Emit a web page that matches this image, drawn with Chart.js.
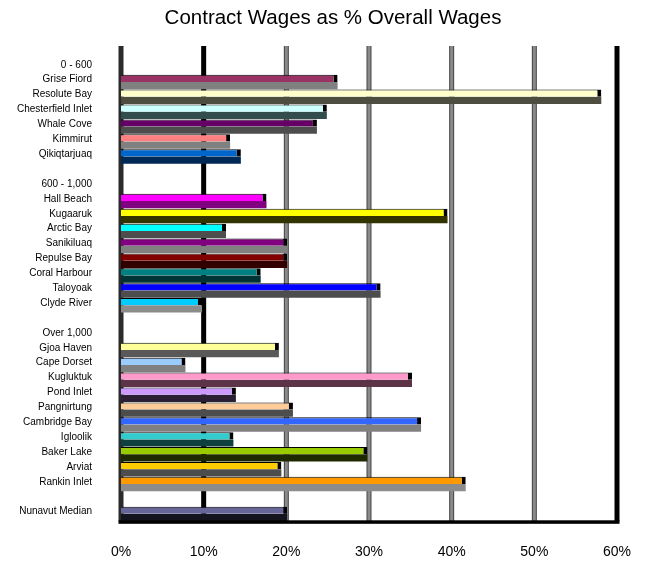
<!DOCTYPE html>
<html><head><meta charset="utf-8">
<script src="https://cdn.jsdelivr.net/npm/chart.js@4/dist/chart.umd.min.js"></script>
<style>html,body{margin:0;padding:0;background:#fff;} #wrap{width:647px;height:562px;}</style>
</head><body><div id="wrap"><canvas id="c" width="647" height="562"></canvas></div>
<script>
const categories = ["0 - 600","Grise Fiord","Resolute Bay","Chesterfield Inlet","Whale Cove","Kimmirut","Qikiqtarjuaq","",
  "600 - 1,000","Hall Beach","Kugaaruk","Arctic Bay","Sanikiluaq","Repulse Bay","Coral Harbour","Taloyoak","Clyde River","",
  "Over 1,000","Gjoa Haven","Cape Dorset","Kugluktuk","Pond Inlet","Pangnirtung","Cambridge Bay","Igloolik","Baker Lake","Arviat","Rankin Inlet","",
  "Nunavut Median"];
const values = [null,26.2,58.1,24.9,23.7,13.2,14.5,null,
  null,17.6,39.5,12.7,20.1,20.1,16.9,31.4,9.8,null,
  null,19.1,7.8,35.2,13.9,20.8,36.3,13.6,29.8,19.4,41.7,null,
  20.1];
const faceColors = ["#fff","#993366","#ffffcc","#ccffff","#660066","#ff8080","#0066cc","#fff",
  "#fff","#ff00ff","#ffff00","#00ffff","#800080","#800000","#008080","#0000ff","#00ccff","#fff",
  "#fff","#ffff99","#99ccff","#ff99cc","#cc99ff","#ffcc99","#3366ff","#33cccc","#99cc00","#ffcc00","#ff9900","#fff",
  "#666699"];
const shadowColors = ["#fff","#808080","#4d4d40","#334d4d","#4d4d4d","#808080","#002a55","#fff",
  "#fff","#800080","#333300","#4d4d4d","#808080","#330000","#003333","#4d4d4d","#8c8c8c","#fff",
  "#fff","#595959","#808080","#5c3347","#2a1f33","#4d4d4d","#808080","#0f4040","#1f2900","#4d4d4d","#8c8c8c","#fff",
  "#14141f"];
const xTicks = [0,10,20,30,40,50,60];

const FONT = "'Liberation Sans', Arial, sans-serif";

const gridPlugin = {
  id: 'grid3d',
  afterLayout(chart) {
    const t = chart.titleBlock;
    if (t) { t.left += 24.5; t.right += 24.5; }
  },
  beforeDatasetsDraw(chart) {
    const {ctx, chartArea: a, scales: {x}} = chart;
    const top = 46, bot = a.bottom;
    ctx.save();
    xTicks.forEach(t => {
      const px = x.getPixelForValue(t);
      if (t === 0) {
        ctx.fillStyle = '#2b2b2b'; ctx.fillRect(px - 2.5, top, 5, bot - top);
      } else if (t === 10 || t === 60) {
        ctx.fillStyle = '#000'; ctx.fillRect(px - 2.5, top, 5, bot - top);
      } else {
        ctx.fillStyle = '#444'; ctx.fillRect(px - 2.5, top, 5, bot - top);
        ctx.fillStyle = '#8a8a8a'; ctx.fillRect(px - 1.5, top, 3, bot - top);
      }
    });
    ctx.restore();
  },
  afterDatasetsDraw(chart) {
    const {ctx, chartArea: a} = chart;
    ctx.save();
    ctx.fillStyle = '#000';
    ctx.fillRect(a.left - 2.5, a.bottom - 1, a.right - a.left + 5, 3.5);
    ctx.restore();
  }
};

new Chart(document.getElementById('c'), {
  type: 'bar',
  data: {
    labels: categories,
    datasets: [
      {label: 'Contract Wages as % Overall Wages', data: values, backgroundColor: faceColors,
       borderColor: '#000', borderWidth: {top: 1, right: 4, bottom: 0, left: 0},
       barPercentage: 1, categoryPercentage: 0.97},
      {label: 'depth', data: values, backgroundColor: shadowColors, borderWidth: 0,
       barPercentage: 1, categoryPercentage: 0.97}
    ]
  },
  options: {
    indexAxis: 'y', responsive: false, animation: false, devicePixelRatio: 1,
    layout: {padding: {left: 0, right: 30, top: 0, bottom: 0}},
    plugins: {
      legend: {display: false}, tooltip: {enabled: false},
      title: {display: true, text: 'Contract Wages as % Overall Wages', color: '#000',
        font: {family: FONT, size: 20.5, weight: 'normal'}, padding: {top: 6.5, bottom: 28.5}}
    },
    scales: {
      x: {min: 0, max: 60,
        afterBuildTicks(s) { s.ticks = xTicks.map(v => ({value: v})); },
        ticks: {callback: v => v + '%', color: '#000', font: {family: FONT, size: 14}, padding: 22, maxRotation: 0},
        grid: {display: false, drawTicks: false}, border: {display: false},
        afterFit(s) { s.height = 562 - 521.3; s.paddingRight = 0; s.paddingLeft = 0; }},
      y: {
        ticks: {color: '#000', font: {family: FONT, size: 10}, padding: 29, labelOffset: -2.2, autoSkip: false},
        grid: {display: false, drawTicks: false}, border: {display: false},
        afterFit(s) { s.width = 121; }}
    }
  },
  plugins: [gridPlugin]
});
</script></body></html>
